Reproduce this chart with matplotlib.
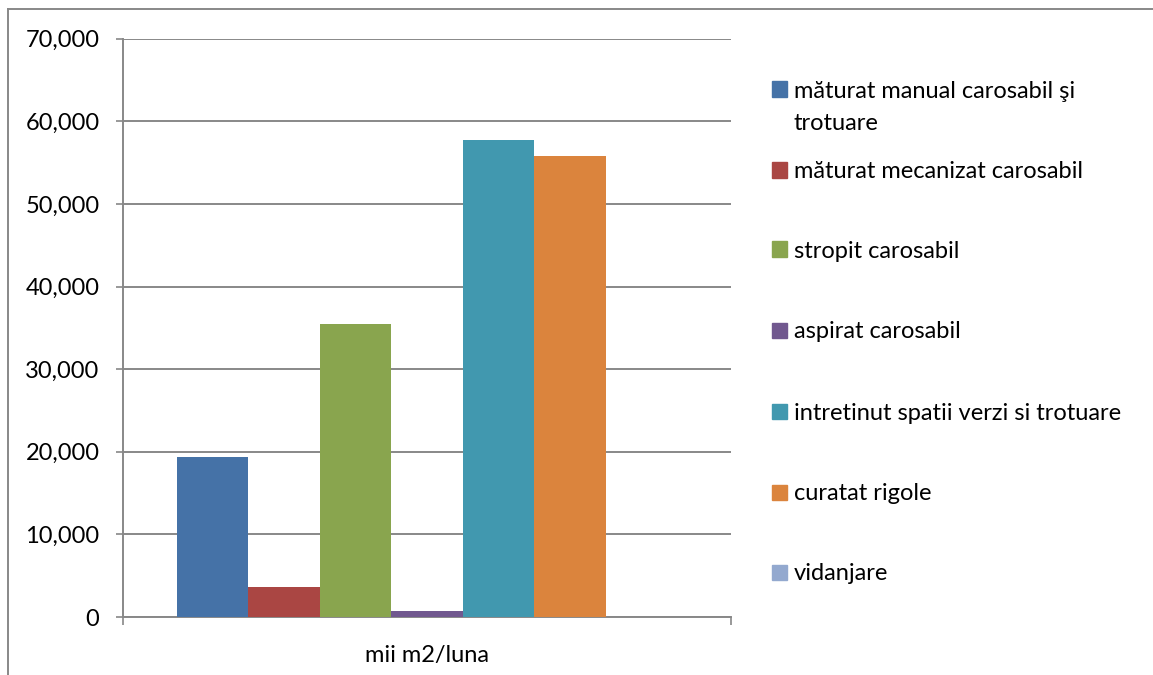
import matplotlib
matplotlib.use("Agg")
import matplotlib.pyplot as plt
from matplotlib.patches import Rectangle
from matplotlib.lines import Line2D
from matplotlib.ticker import FuncFormatter

# data
category = "mii m2/luna"
series = [
    "măturat manual carosabil şi\ntrotuare",
    "măturat mecanizat carosabil",
    "stropit carosabil",
    "aspirat carosabil",
    "intretinut spatii verzi si trotuare",
    "curatat rigole",
    "vidanjare",
]
values = [19370, 3630, 35470, 730, 57750, 55810, 0]
colors = ["#4572A7", "#AA4643", "#89A54E", "#71588F", "#4198AF", "#DB843D", "#93A9CF"]
yticks = [0, 10000, 20000, 30000, 40000, 50000, 60000, 70000]

plt.rcParams['font.family'] = ['Lato', 'DejaVu Sans']
fs = 17

W, H = 1153, 675
fig = plt.figure(figsize=(W / 100, H / 100), dpi=100)
ax = fig.add_axes([123 / W, 1 - 617 / H, (731 - 123) / W, (617 - 38.7) / H])

grey = "#888888"
n = len(series)
gap = 1.5
bw = 1.0 / (n + gap)
for i, (v, c) in enumerate(zip(values, colors)):
    x = -0.5 + bw * (gap / 2) + bw * i
    ax.bar(x, v, width=bw, align="edge", color=c, zorder=3)

ax.set_xlim(-0.5, 0.5)
ax.set_ylim(0, 70000)
ax.set_yticks(yticks)
ax.yaxis.set_major_formatter(FuncFormatter(lambda v, p: f"{int(v):,}"))
ax.grid(axis="y", color=grey, linewidth=1.4, zorder=0)
ax.tick_params(axis="y", length=5, width=1.2, color=grey, pad=12, labelsize=fs)

ax.set_xticks([0])
ax.set_xticklabels([category])
ax.set_xticks([-0.5, 0.5], minor=True)
ax.tick_params(axis="x", which="major", length=0, pad=20, labelsize=fs)
ax.tick_params(axis="x", which="minor", length=6, width=1.2, color=grey)

for s in ["top", "right"]:
    ax.spines[s].set_visible(False)
for s in ["left", "bottom"]:
    ax.spines[s].set_color(grey)
    ax.spines[s].set_linewidth(1.4)

# legend drawn by hand to keep the first entry wrapped
ys = [89, 170, 249, 330, 411, 492, 572]
for lab, c, y in zip(series, colors, ys):
    fig.patches.append(Rectangle((772 / W, 1 - (y + 7.5) / H), 15 / W, 15 / H,
                                 transform=fig.transFigure, color=c))
    for k, line in enumerate(lab.split("\n")):
        fig.text(794 / W, 1 - (y + 2 + 33 * k) / H, line, fontsize=fs,
                 va="center", ha="left")

# outer chart frame
fig.add_artist(Line2D([8 / W, 1], [1 - 9 / H, 1 - 9 / H], color=grey, lw=1.4,
                      transform=fig.transFigure))
fig.add_artist(Line2D([8 / W, 8 / W], [0, 1 - 9 / H], color=grey, lw=1.4,
                      transform=fig.transFigure))

fig.savefig("out.png", dpi=100)
